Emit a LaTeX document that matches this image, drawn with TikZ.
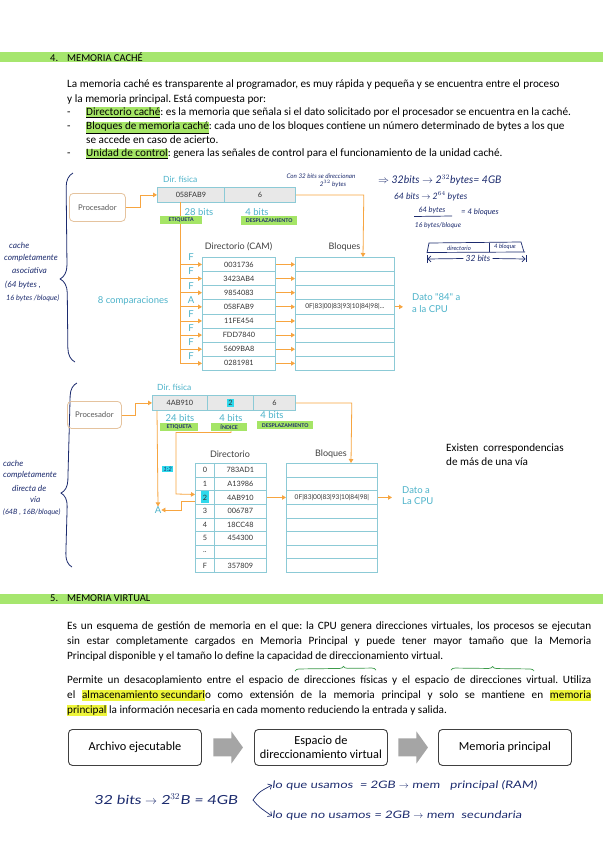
\documentclass[tikz,border=0pt]{standalone}
\usepackage{fontspec}
\setmainfont{Carlito}
\newfontfamily\lato{Lato}
\newfontfamily\handw[FakeSlant=0.12,FakeStretch=1.25]{Lato}
\usetikzlibrary{arrows.meta,decorations.pathreplacing,calc}
\definecolor{secgreen}{HTML}{A6E66E}
\definecolor{hlgreen}{HTML}{A5E566}
\definecolor{hlyellow}{HTML}{EEF53A}
\definecolor{hlcyan}{HTML}{2FD9EC}
\definecolor{dteal}{HTML}{4DB3CA}
\definecolor{dorange}{HTML}{F7A540}
\definecolor{cellb}{HTML}{8CCAD6}
\definecolor{cellfill}{HTML}{E8E8E8}
\definecolor{procb}{HTML}{E5C39E}
\definecolor{ink}{HTML}{1C2B6E}
\definecolor{inkgreen}{HTML}{3C9B4A}
\definecolor{flowb}{HTML}{404040}
\definecolor{flowarrow}{HTML}{A5A5A5}
\newcommand\hlg[1]{{\setlength\fboxsep{0pt}\colorbox{hlgreen}{\rule[-1.5pt]{0pt}{9.5pt}\underline{#1}}}}
\newcommand\hly[1]{{\setlength\fboxsep{0pt}\colorbox{hlyellow}{\rule[-3pt]{0pt}{11.5pt}#1}}}
\newcommand\jline[1]{\makebox[524pt][s]{#1}}
\newcommand\tdots{..}
\frenchspacing
\begin{document}
\begin{tikzpicture}[x=1pt,y=-1pt,
  body/.style={anchor=base west, inner sep=0pt, font=\frenchspacing\fontsize{11.2}{13}\selectfont},
  sect/.style={anchor=west, inner sep=0pt, font=\fontsize{10.5}{12}\selectfont},
  lbl/.style={text=dteal, inner sep=0pt, font=\lato\fontsize{9.5}{11}\selectfont},
  capt/.style={text=black!75, inner sep=0pt, font=\lato\fontsize{9}{10}\selectfont},
  cell/.style={draw=cellb, line width=0.8pt, inner sep=0pt, anchor=north west, text=black!80, font=\lato\fontsize{7.3}{9}\selectfont},
  addr/.style={cell, fill=cellfill, minimum height=15pt},
  oarrow/.style={draw=dorange, line width=0.8pt, -{Triangle[length=4pt,width=4.5pt]}},
  oline/.style={draw=dorange, line width=0.8pt},
  hand/.style={text=ink, inner sep=0pt, font=\lato\itshape\fontsize{8.3}{9.5}\selectfont},
  hltag/.style={fill=hlgreen, inner sep=0pt, anchor=north west, text=ink, font=\lato\bfseries\fontsize{5.2}{6}\selectfont},
  proc/.style={draw=procb, rounded corners=4pt, line width=0.8pt, text=black!65, inner sep=0pt, anchor=north west, font=\lato\fontsize{7.8}{9}\selectfont},
  flowbox/.style={draw=flowb, rounded corners=4pt, line width=0.9pt, align=center, inner sep=0pt, anchor=north west, minimum width=133pt, minimum height=36pt, font=\fontsize{12.3}{14}\selectfont},
  brace/.style={draw=ink, line width=0.8pt, decorate}
]
\useasboundingbox (0,0) rectangle (603,848);
\fill[white] (0,0) rectangle (603,848);

% ===== Section 4 =====
\fill[secgreen] (0,52.5) rectangle (603,62);
\node[sect] (s4) at (50,57.5) {4.\hspace{9pt}MEMORIA CACHÉ};
\node[body] (p1) at (67,88) {La memoria caché es transparente al programador, es muy rápida y pequeña y se encuentra entre el proceso};
\node[body] (p2) at (67,102.5) {y la memoria principal. Está compuesta por:};
\node[body] at (67,115.5) {-};
\node[body] (i1) at (86,115.5) {\hlg{Directorio caché}: es la memoria que señala si el dato solicitado por el procesador se encuentra en la caché.};
\node[body] at (67,130) {-};
\node[body] (i2) at (86,130) {\hlg{Bloques de memoria caché}: cada uno de los bloques contiene un número determinado de bytes a los que};
\node[body] (i2b) at (86,143) {se accede en caso de acierto.};
\node[body] at (67,157) {-};
\node[body] (i3) at (86,157) {\hlg{Unidad de control}: genera las señales de control para el funcionamiento de la unidad caché.};

% ===== Diagram 1 (fully associative) =====
\draw[brace, decoration={brace, amplitude=14pt, aspect=0.44}] (75,362) -- (73,173);
\node[hand, anchor=west] at (9,245) {cache};
\node[hand, anchor=west] at (4,258) {completamente};
\node[hand, anchor=west] at (12,271) {asociativa};
\node[hand, anchor=west] at (5,285) {(64 bytes ,};
\node[hand, anchor=west, font=\lato\itshape\fontsize{7.3}{9}\selectfont] at (6,298) {16 bytes /bloque)};

\node[proc, minimum width=56pt, minimum height=28pt] (proc1) at (69,193) {Procesador};
\node[lbl, anchor=west, font=\lato\fontsize{8.5}{10}\selectfont] (df1) at (163,179) {Dir. física};
\node[addr, minimum width=67pt] (a1) at (157,187) {058FAB9};
\node[addr, minimum width=71pt] (a2) at (224,187) {6};
\draw[oarrow] (proc1.east) -- ++(15,0) |- (a1.west);

\coordinate (trunk) at (180,202);
\node[lbl] (b28) at (199,212) {28 bits};
\node[lbl] (b4) at (257,212) {4 bits};
\node[capt] (dirlbl) at (238.5,247) {Directorio (CAM)};
\node[capt] (bloqlbl) at (344.5,247) {Bloques};
\node[lbl] (comp) at (133,301) {8 comparaciones};

\foreach \v/\l [count=\i from 0] in {0031736/F,3423AB4/F,9854083/F,058FAB9/A,11FE454/F,FDD7840/F,5609BA8/F,0281981/F}{
  \node[cell, minimum width=73pt, minimum height=14.125pt] (d\i) at (202,{257+14.125*\i}) {\v};
  \node[cell, minimum width=99pt, minimum height=14.125pt] (k\i) at (295,{257+14.125*\i}) {};
  \draw[oarrow] (d\i.east) -- (k\i.west);
  \draw[oarrow] (d\i.west -| trunk) -- (d\i.west);
  \node[lbl] at ($(d\i.west -| trunk)+(11,-7)$) {\l};
}
\draw[oline] (trunk) -- (d7.west -| trunk);
\node[inner sep=0pt, text=black!80, font=\lato\fontsize{6.6}{8}\selectfont] at (k3.center) {0F|83|00|83|93|10|84|98|\tdots.};
\coordinate (cpu1) at (403,0);
\draw[oarrow] (k3.east) -- (k3.east -| cpu1);
\node[lbl, anchor=north west, align=left, font=\lato\fontsize{9.5}{12}\selectfont] (dato1) at (412,293) {Dato "84" a\\a la CPU};
\draw[oarrow] (a2.east) -- ++(68,0) -- (k0.north -| 363,0);
\node[hltag, minimum width=42pt, minimum height=8pt] (et1) at (160,216) {ETIQUETA};
\node[hltag, minimum width=56pt, minimum height=8.5pt] (de1) at (241,216) {DESPLAZAMIENTO};

% handwritten notes top right
\node[hand, font=\lato\itshape\fontsize{6.3}{7}\selectfont] at (321,176) {Con 32 bits se direccionan};
\node[hand, font=\lato\itshape\fontsize{6.3}{7}\selectfont] at (333,184) {2$^{32}$ bytes};
\node[hand, anchor=west, font=\lato\itshape\fontsize{10.5}{12}\selectfont] at (378,180) {$\Rightarrow$ 32bits $\rightarrow$ 2$^{32}$bytes= 4GB};
\node[hand, anchor=west, font=\lato\itshape\fontsize{8.8}{10}\selectfont] at (394,196) {64 bits $\rightarrow$ 2$^{64}$ bytes};
\node[hand, font=\lato\itshape\fontsize{7.5}{9}\selectfont] (num) at (432,210) {64 bytes};
\draw[ink, line width=0.7pt] (414,216.5) -- (452,216);
\node[hand, font=\lato\itshape\fontsize{6.8}{8}\selectfont] (den) at (438,226) {16 bytes/bloque};
\node[hand, font=\lato\itshape\fontsize{7.8}{9}\selectfont] at (480,212) {= 4 bloques};
\draw[ink, line width=0.7pt] (427,253) -- (429,243) -- (521,242) -- (524,252);
\draw[ink, line width=0.7pt] (489,242.5) -- (489,252);
\draw[ink, line width=0.7pt] (427,252.5) -- (525,252);
\node[hand, font=\lato\itshape\fontsize{6}{7}\selectfont] at (459,248) {directorio};
\node[hand, font=\lato\itshape\fontsize{6}{7}\selectfont] at (505,247) {4 bloque};
\node[hand, fill=white, inner xsep=2pt, font=\lato\itshape\fontsize{8.5}{9}\selectfont] (b32) at (478,258.5) {32 bits};
\draw[ink, line width=0.7pt] (427,255) -- (427,263);
\draw[ink, line width=0.7pt] (526,255) -- (526,262);
\draw[ink, line width=0.7pt, -{Straight Barb[length=3pt]}] (b32.west) -- (427.5,259);
\draw[ink, line width=0.7pt, -{Straight Barb[length=3pt]}] (b32.east) -- (525.5,259);

% ===== Diagram 2 (direct mapped) =====
\draw[brace, decoration={brace, amplitude=13pt, aspect=0.4}] (72,567) -- (77,383);
\node[hand, anchor=west] at (3,463) {cache};
\node[hand, anchor=west] at (3,475) {completamente};
\node[hand, anchor=west] at (12,488) {directa de};
\node[hand, anchor=west] at (30,500) {vía};
\node[hand, anchor=west, font=\lato\itshape\fontsize{7.3}{9}\selectfont] at (3,512) {(64B , 16B/bloque)};

\node[proc, minimum width=54pt, minimum height=27pt] (proc2) at (67,401) {Procesador};
\node[lbl, anchor=west, font=\lato\fontsize{8.5}{10}\selectfont] (df2) at (157,387) {Dir. física};
\node[addr, minimum width=55pt] (e1) at (152,395) {4AB910};
\node[addr, minimum width=46pt] (e2) at (207,395) {{\setlength\fboxsep{1.2pt}\colorbox{hlcyan}{2}}};
\node[addr, minimum width=42pt] (e3) at (253,395) {6};
\draw[oarrow] (proc2.east) -- ++(14,0) |- (e1.west);

\node[lbl] at (180,418) {24 bits};
\node[lbl] at (231,418) {4 bits};
\node[lbl] at (272,415) {4 bits};

\node[capt] (dir2) at (230,454) {Directorio};
\node[capt] (bl2) at (331,454) {Bloques};
\foreach \n/\v [count=\i from 0] in {0/783AD1,1/A13986,2/4AB910,3/006787,4/18CC48,5/454300,\tdots/{},F/357809}{
  \node[cell, minimum width=19pt, minimum height=13.625pt] (x\i) at (195,{463+13.625*\i}) {\n};
  \node[cell, minimum width=52pt, minimum height=13.625pt] (y\i) at (214,{463+13.625*\i}) {\v};
  \node[cell, minimum width=91pt, minimum height=13.625pt] (z\i) at (286,{463+13.625*\i}) {};
}
\node[fill=hlcyan, minimum width=8pt, minimum height=12pt, inner sep=0pt, text=black!80, font=\lato\fontsize{7.3}{9}\selectfont] at (x2.center) {2};
\node[inner sep=0pt, text=black!80, font=\lato\fontsize{6.6}{8}\selectfont] at (z2.center) {0F|83|00|83|93|10|84|98|};
\draw[oarrow] (y2.east) -- (z2.west);
\coordinate (cpu2) at (392,0);
\draw[oarrow] (z2.east) -- (z2.east -| cpu2);
\node[lbl, anchor=north west, align=left, font=\lato\fontsize{9.5}{11}\selectfont] (dato2) at (402,486) {Dato a\\La CPU};
\draw[oarrow] (e3.east) -- ++(56,0) -- (z0.north -| 351,0);

% tag line to A
\node[lbl] (A) at (158,510) {A};
\draw[oarrow] (e1.south -| 157,0) -- (A.north);
\draw[oarrow] ($(x2.west)+(0,4)$) -- ++(-14,0) |- (A.east);
% index line
\draw[oarrow] (231,431) -- (231,432.5) -- (176,432.5) -- (176,494) -- ($(x2.west)+(0,-3)$);
\node[hltag, minimum width=38pt, minimum height=7.5pt] (et2) at (160,423) {ETIQUETA};
\node[hltag, minimum width=36pt, minimum height=7.5pt] (in2) at (211,423) {ÍNDICE};
\node[hltag, minimum width=56pt, minimum height=8pt] (de2) at (257,421) {DESPLAZAMIENTO};
\node[fill=hlcyan, inner sep=1pt, text=ink, font=\lato\itshape\fontsize{6}{7}\selectfont] at (167.5,469) {1:2};

\node[body, anchor=west, align=left, font=\fontsize{11.2}{14}\selectfont] (exist) at (446,455) {Existen\ \ correspondencias\\de más de una vía};

% ===== Section 5 =====
\fill[secgreen] (0,594) rectangle (603,603.5);
\node[sect] (s5) at (50,598.5) {5.\hspace{9pt}MEMORIA VIRTUAL};
\node[body] at (67,629) {\jline{Es un esquema de gestión de memoria en el que: la CPU genera direcciones virtuales, los procesos se ejecutan}};
\node[body] at (67,644) {\jline{sin estar completamente cargados en Memoria Principal y puede tener mayor tamaño que la Memoria}};
\node[body] at (67,659) {Principal disponible y el tamaño lo define la capacidad de direccionamiento virtual.};
\node[body] at (67,683) {\jline{Permite un desacoplamiento entre el espacio de direcciones físicas y el espacio de direcciones virtual. Utiliza}};
\node[body] at (67,698) {\jline{el \hly{almacenamiento secundari}o como extensión de la memoria principal y solo se mantiene en \hly{memoria}}};
\node[body] at (67,713) {\hly{principal} la información necesaria en cada momento reduciendo la entrada y salida.};
\draw[inkgreen, line width=0.7pt, decorate, decoration={brace, amplitude=4pt, aspect=0.6}] (295,671) -- (376,670);
\draw[inkgreen, line width=0.7pt, decorate, decoration={brace, amplitude=4pt, aspect=0.5}] (451,670) -- (534,671);

\node[flowbox] (fa) at (68,729) {Archivo ejecutable};
\node[flowbox] (fb) at (254,729) {Espacio de\\direccionamiento virtual};
\node[flowbox] (fc) at (438,729) {Memoria principal};
\foreach \s/\t in {fa/fb, fb/fc}{
  \path ($(\s.east)!0.5!(\t.west)$) coordinate (m);
  \fill[flowarrow] ($(m)+(-14.5,-9)$) -- ($(m)+(3.5,-9)$) -- ($(m)+(3.5,-16)$) -- ($(m)+(15,0)$) -- ($(m)+(3.5,16)$) -- ($(m)+(3.5,9)$) -- ($(m)+(-14.5,9)$) -- cycle;
}

\node[text=ink, inner sep=0pt, font=\handw\fontsize{12.5}{14}\selectfont] (b4gb) at (166,799) {32 bits $\rightarrow$ 2$^{32}$B = 4GB};
\node[text=ink, inner sep=0pt, anchor=west, font=\handw\fontsize{10.3}{11}\selectfont] (uso) at (272,785) {lo que usamos \ = 2GB $\rightarrow$ mem \ \ principal (RAM)};
\node[text=ink, inner sep=0pt, anchor=west, font=\handw\fontsize{10.3}{11}\selectfont] (nouso) at (272,816) {lo que no usamos = 2GB $\rightarrow$ mem \ secundaria};
\draw[ink, line width=0.7pt, -{Straight Barb[length=3pt]}] (253,800) .. controls (259,792) .. (uso.west);
\draw[ink, line width=0.7pt, -{Straight Barb[length=3pt]}] (253,800) .. controls (259,807) .. (nouso.west);
\end{tikzpicture}
\end{document}
